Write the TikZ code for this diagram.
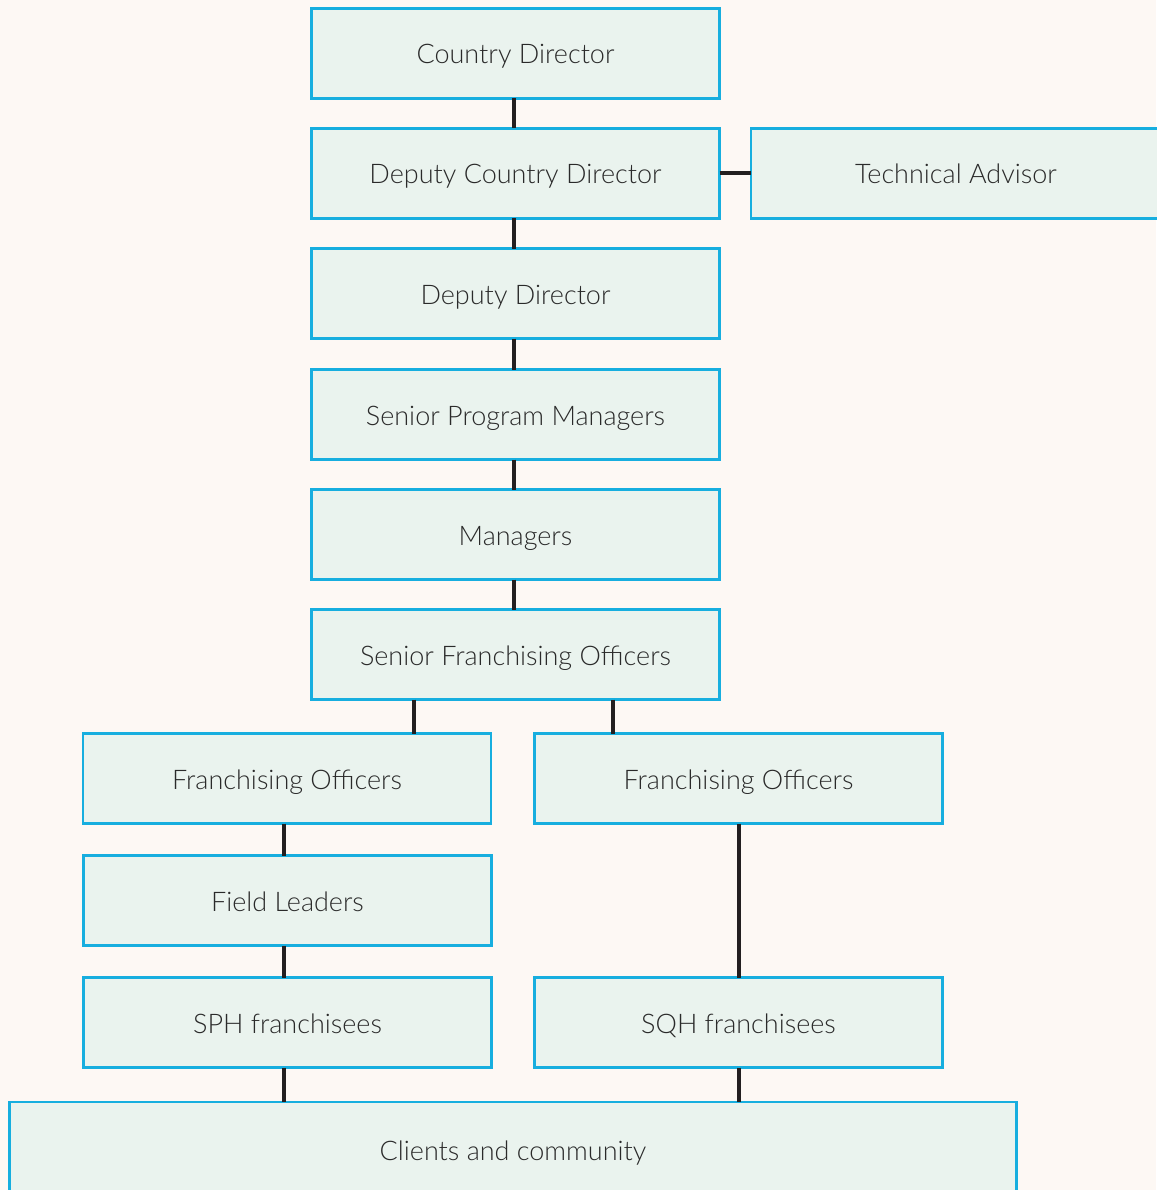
\documentclass[tikz,border=0pt]{standalone}
\usepackage{fontspec}
\setmainfont{Lato}[UprightFont=* Light]
\definecolor{bgc}{HTML}{FDF8F4}
\definecolor{boxfill}{HTML}{EAF3EE}
\definecolor{boxline}{HTML}{17AEDF}
\definecolor{conn}{HTML}{231F20}
\definecolor{txt}{HTML}{2A2A2A}
\begin{document}
\begin{tikzpicture}[x=1pt,y=-1pt,
  orgbox/.style={draw=boxline,fill=boxfill,line width=2.4pt,minimum width=408pt,minimum height=90pt,inner sep=0pt,outer sep=0pt,text=txt,text height=21pt,text depth=0pt,font=\fontsize{27}{31}\selectfont},
  link/.style={draw=conn,line width=4pt}]
\useasboundingbox (0,0) rectangle (1156,1190);
\fill[bgc] (0,0) rectangle (1156,1190);
\node[orgbox] (cd) at (515.5,53.5) {Country Director};
\node[orgbox] (dcd) at (515.5,173.5) {Deputy Country Director};
\node[orgbox,minimum width=410pt] (ta) at (956,173.5) {Technical Advisor};
\node[orgbox] (dd) at (515.5,293.5) {Deputy Director};
\node[orgbox] (spm) at (515.5,414.5) {Senior Program Managers};
\node[orgbox] (mgr) at (515.5,534.5) {Managers};
\node[orgbox] (sfo) at (515.5,654.5) {Senior Franchising Officers};
\node[orgbox] (fol) at (287,778.5) {Franchising Officers};
\node[orgbox] (for) at (738.5,778.5) {Franchising Officers};
\node[orgbox] (fl) at (287.5,900.5) {Field Leaders};
\node[orgbox] (sph) at (287.5,1022.5) {SPH franchisees};
\node[orgbox] (sqh) at (738.5,1022.5) {SQH franchisees};
\node[orgbox,minimum width=1007pt,minimum height=96pt] (cc) at (513,1150) {Clients and community};
\coordinate (xa) at (414,0);
\coordinate (xb) at (613,0);
\coordinate (xl) at (284,0);
\coordinate (xr) at (739,0);
\coordinate (xm) at (514,0);
\draw[link] (cd.south -| xm) -- (dcd.north -| xm);
\draw[link] (dcd.east) -- (ta.west);
\draw[link] (dcd.south -| xm) -- (dd.north -| xm);
\draw[link] (dd.south -| xm) -- (spm.north -| xm);
\draw[link] (spm.south -| xm) -- (mgr.north -| xm);
\draw[link] (mgr.south -| xm) -- (sfo.north -| xm);
\draw[link] (sfo.south -| xa) -- (fol.north -| xa);
\draw[link] (sfo.south -| xb) -- (for.north -| xb);
\draw[link] (fol.south -| xl) -- (fl.north -| xl);
\draw[link] (fl.south -| xl) -- (sph.north -| xl);
\draw[link] (for.south -| xr) -- (sqh.north -| xr);
\draw[link] (sph.south -| xl) -- (cc.north -| xl);
\draw[link] (sqh.south -| xr) -- (cc.north -| xr);
\end{tikzpicture}
\end{document}
